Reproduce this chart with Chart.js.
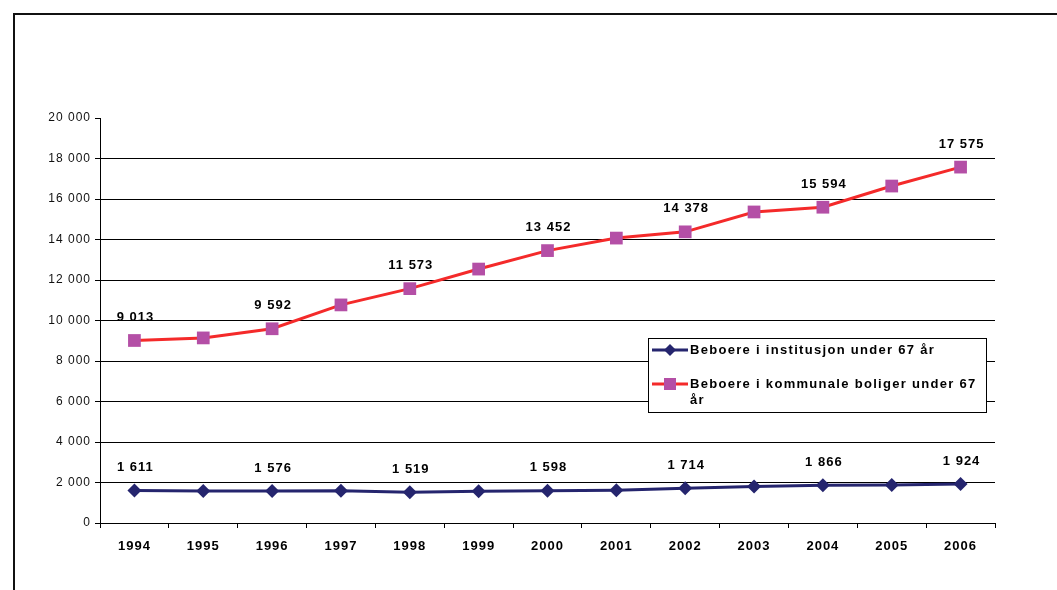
<!DOCTYPE html>
<html>
<head>
<meta charset="utf-8">
<style>
  html, body { margin: 0; padding: 0; background: #fff; }
  #wrap { width: 1057px; height: 590px; position: relative; }
</style>
<script src="https://cdn.jsdelivr.net/npm/chart.js@4/dist/chart.umd.min.js"></script>
</head>
<body>
<div id="wrap"><canvas id="c" width="1057" height="590"></canvas></div>
<script>
const years = ['1994','1995','1996','1997','1998','1999','2000','2001','2002','2003','2004','2005','2006'];
const institusjon = [1611, 1580, 1576, 1590, 1519, 1570, 1598, 1620, 1714, 1800, 1866, 1880, 1924];
const kommunale = [9013, 9140, 9592, 10770, 11573, 12540, 13452, 14070, 14378, 15360, 15594, 16640, 17575];
const legendLabels = [
  ['Beboere i institusjon under 67 år'],
  ['Beboere i kommunale boliger under 67', 'år']
];
const labelledIndices = [0, 2, 4, 6, 8, 10, 12];

const FONT = 'Arial, "Liberation Sans", sans-serif';
const NAVY = '#25256e';
const RED = '#f42a2a';
const MAGENTA = '#b44fa6';

function fmt(v) {
  return String(v).replace(/\B(?=(\d{3})+(?!\d))/g, ' ');
}

// tracking for axis text (canvas state is reset on resize, so set it per draw)
const spacingPlugin = {
  id: 'spacing',
  beforeDraw(chart) { chart.ctx.letterSpacing = '1px'; },
  afterDraw(chart) { chart.ctx.letterSpacing = '0px'; }
};

const valueLabels = {
  id: 'valueLabels',
  afterDatasetsDraw(chart) {
    const ctx = chart.ctx;
    ctx.save();
    ctx.letterSpacing = '1px';
    ctx.font = 'bold 13px ' + FONT;
    ctx.fillStyle = '#000';
    ctx.textAlign = 'center';
    ctx.textBaseline = 'middle';
    chart.data.datasets.forEach((ds, di) => {
      const meta = chart.getDatasetMeta(di);
      labelledIndices.forEach(i => {
        const p = meta.data[i];
        ctx.fillText(fmt(ds.data[i]), p.x + 1, p.y - 23);
      });
    });
    ctx.restore();
  }
};

const boxLegend = {
  id: 'boxLegend',
  afterDraw(chart) {
    const ctx = chart.ctx;
    const x0 = 648, y0 = 338, w = 338, h = 74;
    ctx.save();
    ctx.fillStyle = '#fff';
    ctx.fillRect(x0, y0, w, h);
    ctx.strokeStyle = '#000';
    ctx.lineWidth = 1;
    ctx.strokeRect(x0 + 0.5, y0 + 0.5, w, h);
    const rows = [y0 + 12, y0 + 46];
    const ds = chart.data.datasets;
    ds.forEach((d, i) => {
      const y = rows[i];
      ctx.strokeStyle = d.borderColor;
      ctx.lineWidth = 3;
      ctx.beginPath();
      ctx.moveTo(x0 + 4, y);
      ctx.lineTo(x0 + 40, y);
      ctx.stroke();
      ctx.fillStyle = d.pointBackgroundColor;
      if (d.pointStyle === 'rect') {
        ctx.fillRect(x0 + 16, y - 6, 12, 12);
      } else {
        ctx.beginPath();
        ctx.moveTo(x0 + 22, y - 6);
        ctx.lineTo(x0 + 28, y);
        ctx.lineTo(x0 + 22, y + 6);
        ctx.lineTo(x0 + 16, y);
        ctx.closePath();
        ctx.fill();
      }
      ctx.letterSpacing = '1.3px';
      ctx.font = 'bold 13px ' + FONT;
      ctx.fillStyle = '#000';
      ctx.textAlign = 'left';
      ctx.textBaseline = 'middle';
      legendLabels[i].forEach((line, li) => {
        ctx.fillText(line, x0 + 42, y + li * 16);
      });
    });
    ctx.restore();
  }
};

const framePlugin = {
  id: 'frame',
  afterDraw(chart) {
    const ctx = chart.ctx;
    ctx.save();
    ctx.strokeStyle = '#111';
    ctx.lineWidth = 2;
    ctx.beginPath();
    ctx.moveTo(14, 600);
    ctx.lineTo(14, 14);
    ctx.lineTo(1070, 14);
    ctx.stroke();
    ctx.restore();
  }
};

new Chart(document.getElementById('c'), {
  type: 'line',
  data: {
    labels: years,
    datasets: [
      {
        label: legendLabels[0].join(' '),
        data: institusjon,
        borderColor: NAVY,
        backgroundColor: NAVY,
        pointBackgroundColor: NAVY,
        pointBorderColor: NAVY,
        borderWidth: 3,
        pointStyle: 'rectRot',
        pointRadius: 7,
        pointBorderWidth: 0,
        tension: 0
      },
      {
        label: legendLabels[1].join(' '),
        data: kommunale,
        borderColor: RED,
        backgroundColor: MAGENTA,
        pointBackgroundColor: MAGENTA,
        pointBorderColor: MAGENTA,
        borderWidth: 3,
        pointStyle: 'rect',
        pointRadius: 9,
        pointBorderWidth: 0,
        tension: 0
      }
    ]
  },
  options: {
    responsive: false,
    animation: false,
    layout: { padding: { left: 0, top: 118, right: 62, bottom: 0 } },
    plugins: {
      legend: { display: false },
      tooltip: { enabled: false }
    },
    scales: {
      x: {
        offset: true,
        afterFit(scale) { scale.height = 67; },
        grid: {
          offset: true,
          drawOnChartArea: false,
          drawTicks: true,
          tickLength: 5,
          color: '#000'
        },
        border: { display: true, color: '#000', width: 1 },
        ticks: {
          autoSkip: false,
          maxRotation: 0,
          padding: 11,
          color: '#000',
          font: { family: FONT, size: 13, weight: 'bold' }
        }
      },
      y: {
        min: 0,
        max: 20000,
        afterFit(scale) { scale.width = 100; },
        grid: {
          color: ctx => (ctx.tick && ctx.tick.value === 20000) ? 'rgba(0,0,0,0)' : '#000',
          tickColor: '#000',
          tickLength: 5,
          lineWidth: 1
        },
        border: { display: true, color: '#000', width: 1 },
        ticks: {
          stepSize: 2000,
          padding: 4,
          color: '#111',
          font: { family: FONT, size: 12 },
          callback: v => fmt(v)
        }
      }
    }
  },
  plugins: [spacingPlugin, valueLabels, boxLegend, framePlugin]
});
</script>
</body>
</html>
